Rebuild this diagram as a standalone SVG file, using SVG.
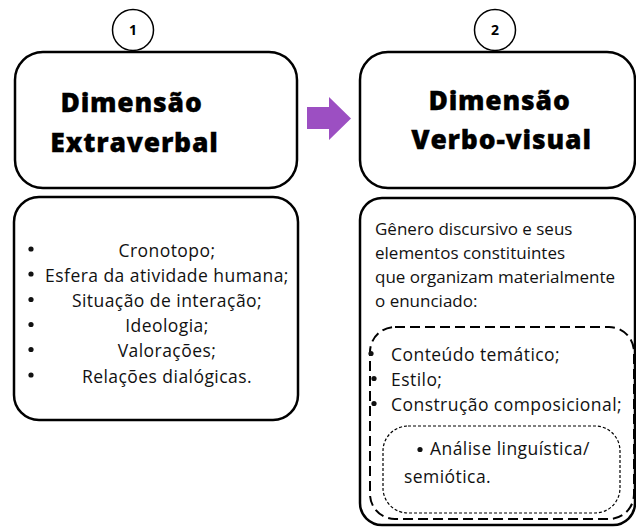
<svg xmlns="http://www.w3.org/2000/svg" width="636" height="528" viewBox="0 0 636 528">
<defs>
<style>
.box{fill:#fff;stroke:#000;stroke-width:2.5}
.circ{fill:#fff;stroke:#000;stroke-width:1.5}
.num{font-family:"Open Sans","DejaVu Sans",sans-serif;font-weight:700;font-size:14px;fill:#000;text-anchor:middle}
.title{font-family:"Open Sans","DejaVu Sans",sans-serif;font-weight:800;font-size:26.5px;letter-spacing:0.8px;fill:#000;stroke:#000;stroke-width:0.3;text-anchor:middle}
.t{font-family:"Open Sans","DejaVu Sans",sans-serif;font-size:17px;fill:#111}
.l{font-size:17.5px;letter-spacing:0.45px}
.c{text-anchor:middle}
.dash{fill:none;stroke:#000;stroke-width:2;stroke-dasharray:10 5}
.dot{fill:none;stroke:#000;stroke-width:1.2;stroke-dasharray:3 2}
</style>
</defs>
<rect width="636" height="528" fill="#fff"/>
<g id="connectors">
<polygon points="307,107 329,107 329,97 351,118.5 329,140 329,129 307,129" fill="#9C4FC2"/>
</g>
<g id="node1-title">
<rect class="box" x="15" y="52" width="282" height="136" rx="28"/>
<text class="title" x="131.5" y="112">Dimensão</text>
<text class="title" x="134.5" y="152">Extraverbal</text>
</g>
<g id="badge1">
<circle class="circ" cx="133" cy="30" r="20.5"/>
<text class="num" x="133" y="35">1</text>
</g>
<g id="node1-list">
<rect class="box" x="14" y="197" width="284" height="223" rx="25"/>
<g fill="#111">
<circle cx="31" cy="249" r="2.6"/>
<circle cx="31" cy="274" r="2.6"/>
<circle cx="31" cy="299.5" r="2.6"/>
<circle cx="31" cy="324.5" r="2.6"/>
<circle cx="31" cy="349.5" r="2.6"/>
<circle cx="31" cy="375" r="2.6"/>
</g>
<text class="t l c" x="167" y="256.5">Cronotopo;</text>
<text class="t l c" x="167" y="281.5">Esfera da atividade humana;</text>
<text class="t l c" x="167" y="307">Situação de interação;</text>
<text class="t l c" x="167" y="332">Ideologia;</text>
<text class="t l c" x="167" y="357">Valorações;</text>
<text class="t l c" x="167" y="382.5">Relações dialógicas.</text>
</g>
<g id="node2-title">
<rect class="box" x="360" y="52" width="275" height="136" rx="28"/>
<text class="title" x="499.5" y="110">Dimensão</text>
<text class="title" x="501.5" y="149">Verbo-visual</text>
</g>
<g id="badge2">
<circle class="circ" cx="495" cy="30" r="20.5"/>
<text class="num" x="495" y="35">2</text>
</g>
<g id="node2-list">
<rect class="box" x="360" y="198" width="275" height="327" rx="22"/>
<text class="t" x="375" y="235">Gênero discursivo e seus</text>
<text class="t" x="375" y="259">elementos constituintes</text>
<text class="t" x="375" y="283">que organizam materialmente</text>
<text class="t" x="375" y="307">o enunciado:</text>
<g id="elements">
<rect class="dash" x="370" y="327" width="264" height="192" rx="25"/>
<g fill="#111">
<circle cx="371" cy="353.5" r="2.6"/>
<circle cx="374" cy="378.5" r="2.6"/>
<circle cx="374" cy="403.5" r="2.6"/>
</g>
<text class="t l" x="391" y="361">Conteúdo temático;</text>
<text class="t l" x="391" y="386">Estilo;</text>
<text class="t l" x="391" y="411">Construção composicional;</text>
</g>
<g id="analysis">
<rect class="dot" x="383" y="426" width="237" height="87" rx="25"/>
<circle cx="420" cy="449.5" r="2.6" fill="#111"/>
<text class="t l" x="430" y="455">Análise linguística/</text>
<text class="t l" x="404" y="483">semiótica.</text>
</g>
</g>
</svg>
